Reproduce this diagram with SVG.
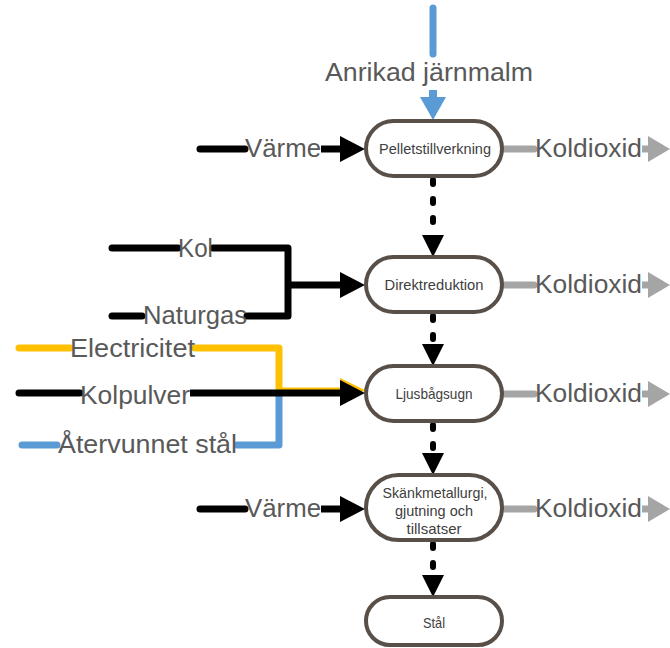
<svg xmlns="http://www.w3.org/2000/svg" width="670" height="648" viewBox="0 0 670 648">
<style>
.lbl{font-family:"Liberation Sans",Arial,sans-serif;font-size:25px;fill:#595959}
.ntx{font-family:"Liberation Sans",Arial,sans-serif;font-size:14.5px;fill:#404040}
.node{fill:#fff;stroke:#584f48;stroke-width:4}
.blk{fill:none;stroke:#000;stroke-width:7;stroke-linecap:round;stroke-linejoin:round}
.gry{fill:none;stroke:#a5a5a5;stroke-width:7;stroke-linecap:round}
.yel{fill:none;stroke:#ffc000;stroke-width:7;stroke-linecap:round;stroke-linejoin:round}
.blu{fill:none;stroke:#5b9bd5;stroke-width:7;stroke-linecap:round;stroke-linejoin:round}
.dash{fill:none;stroke:#000;stroke-width:6;stroke-linecap:round;stroke-dasharray:4 15}
</style>
<rect width="670" height="648" fill="#fff"/>
<g id="connectors">
  <path class="blu" d="M433,8 V54" stroke-linecap="butt"/>
  <path d="M433,90 V98" stroke="#5b9bd5" stroke-width="8"/>
  <polygon points="420,97 446,97 433,120" fill="#5b9bd5"/>
  <path class="blk" d="M200,149 H245"/>
  <path d="M321,149 H342" stroke="#000" stroke-width="7"/>
  <polygon points="340,136 365,149 340,162" fill="#000"/>
  <g id="co2-1">
    <path class="gry" d="M504,149 H534"/>
    <path d="M642,149 H650" stroke="#a5a5a5" stroke-width="7"/>
    <polygon points="648,136 670,149 648,162" fill="#a5a5a5"/>
  </g>
  <g id="co2-2">
    <path class="gry" d="M504,285 H534"/>
    <path d="M642,285 H650" stroke="#a5a5a5" stroke-width="7"/>
    <polygon points="648,272 670,285 648,298" fill="#a5a5a5"/>
  </g>
  <g id="co2-3">
    <path class="gry" d="M504,394 H534"/>
    <path d="M642,394 H650" stroke="#a5a5a5" stroke-width="7"/>
    <polygon points="648,381 670,394 648,407" fill="#a5a5a5"/>
  </g>
  <g id="co2-4">
    <path class="gry" d="M504,509 H534"/>
    <path d="M642,509 H650" stroke="#a5a5a5" stroke-width="7"/>
    <polygon points="648,496 670,509 648,522" fill="#a5a5a5"/>
  </g>
  <path class="blk" d="M112,248 H178"/>
  <path class="blk" d="M213,248 H288 V316 H247" stroke-linecap="butt"/>
  <path class="blk" d="M112,316 H142"/>
  <path d="M288,285 H342" stroke="#000" stroke-width="7"/>
  <polygon points="340,272 365,285 340,298" fill="#000"/>
  <path class="yel" d="M19,348 H70"/>
  <path class="yel" d="M195,348 H279 V391 H345" stroke-linecap="butt"/>
  <polygon points="340,378 367,391 340,393" fill="#ffc000"/>
  <path class="blu" d="M22,445 H57"/>
  <path class="blu" d="M237,445 H279 V397" stroke-linecap="butt"/>
  <path class="blk" d="M19,393 H80"/>
  <path d="M190,393 H342" stroke="#000" stroke-width="7"/>
  <polygon points="340,380 365,393 340,406" fill="#000"/>
  <path class="blk" d="M200,509 H245"/>
  <path d="M321,509 H342" stroke="#000" stroke-width="7"/>
  <polygon points="340,496 365,509 340,522" fill="#000"/>
  <path class="dash" d="M433,180 V232"/>
  <polygon points="422,235 444,235 433,257" fill="#000"/>
  <path class="dash" d="M433,316 V341"/>
  <polygon points="422,344 444,344 433,366" fill="#000"/>
  <path class="dash" d="M433,425 V450"/>
  <polygon points="422,453 444,453 433,475" fill="#000"/>
  <path class="dash" d="M433,544 V572"/>
  <polygon points="422,575 444,575 433,597" fill="#000"/>
</g>
<g id="labels">
  <text class="lbl" x="325" y="81" textLength="208" lengthAdjust="spacingAndGlyphs">Anrikad järnmalm</text>
  <text class="lbl" x="245" y="157" textLength="76" lengthAdjust="spacingAndGlyphs">Värme</text>
  <text class="lbl" x="535" y="157" textLength="107" lengthAdjust="spacingAndGlyphs">Koldioxid</text>
  <text class="lbl" x="178" y="257" textLength="35" lengthAdjust="spacingAndGlyphs">Kol</text>
  <text class="lbl" x="143" y="324" textLength="104" lengthAdjust="spacingAndGlyphs">Naturgas</text>
  <text class="lbl" x="535" y="293" textLength="107" lengthAdjust="spacingAndGlyphs">Koldioxid</text>
  <text class="lbl" x="70" y="357" textLength="125" lengthAdjust="spacingAndGlyphs">Electricitet</text>
  <text class="lbl" x="80" y="404" textLength="110" lengthAdjust="spacingAndGlyphs">Kolpulver</text>
  <text class="lbl" x="58" y="453" textLength="179" lengthAdjust="spacingAndGlyphs">Återvunnet stål</text>
  <text class="lbl" x="535" y="402" textLength="107" lengthAdjust="spacingAndGlyphs">Koldioxid</text>
  <text class="lbl" x="245" y="517" textLength="76" lengthAdjust="spacingAndGlyphs">Värme</text>
  <text class="lbl" x="535" y="517" textLength="107" lengthAdjust="spacingAndGlyphs">Koldioxid</text>
</g>
<g id="pelletstillverkning">
  <rect class="node" x="366" y="121" width="136" height="55" rx="27.5"/>
  <text class="ntx" x="435" y="154" text-anchor="middle" textLength="112" lengthAdjust="spacingAndGlyphs">Pelletstillverkning</text>
</g>
<g id="direktreduktion">
  <rect class="node" x="366" y="257" width="136" height="55" rx="27.5"/>
  <text class="ntx" x="434" y="290" text-anchor="middle" textLength="99" lengthAdjust="spacingAndGlyphs">Direktreduktion</text>
</g>
<g id="ljusbagsugn">
  <rect class="node" x="366" y="366" width="136" height="55" rx="27.5"/>
  <text class="ntx" x="434" y="399" text-anchor="middle" textLength="77" lengthAdjust="spacingAndGlyphs">Ljusbågsugn</text>
</g>
<g id="skankmetallurgi">
  <rect class="node" x="366" y="475" width="136" height="65" rx="32.5"/>
  <text class="ntx" x="435" y="498" text-anchor="middle" textLength="105" lengthAdjust="spacingAndGlyphs">Skänkmetallurgi,</text>
  <text class="ntx" x="434" y="516" text-anchor="middle" textLength="78" lengthAdjust="spacingAndGlyphs">gjutning och</text>
  <text class="ntx" x="434" y="534" text-anchor="middle" textLength="55" lengthAdjust="spacingAndGlyphs">tillsatser</text>
</g>
<g id="stal">
  <rect class="node" x="366" y="597" width="136" height="48" rx="24"/>
  <text class="ntx" x="434" y="628" text-anchor="middle" textLength="22" lengthAdjust="spacingAndGlyphs">Stål</text>
</g>
</svg>
